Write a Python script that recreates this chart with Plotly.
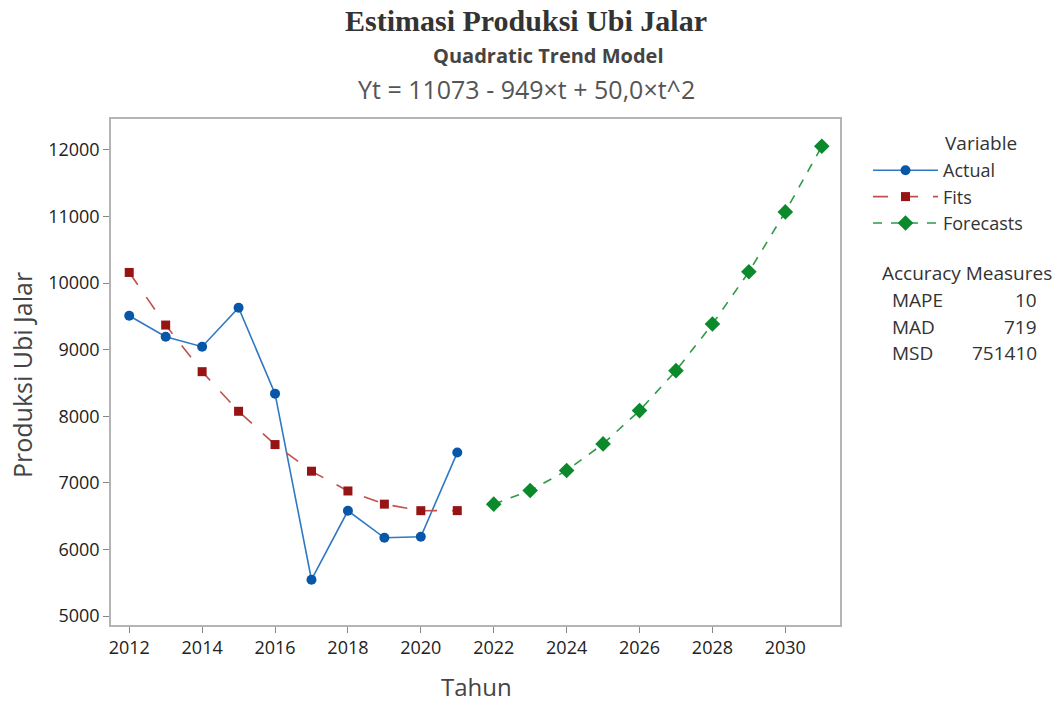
import plotly.graph_objects as go

years_actual = [2012, 2013, 2014, 2015, 2016, 2017, 2018, 2019, 2020, 2021]
actual = [9510, 9195, 9045, 9630, 8340, 5545, 6580, 6175, 6190, 7455]
fits = [10160, 9370, 8670, 8075, 7575, 7175, 6878, 6680, 6582, 6583]
years_fc = [2022, 2023, 2024, 2025, 2026, 2027, 2028, 2029, 2030, 2031]
forecasts = [6680, 6885, 7185, 7585, 8085, 8685, 9385, 10170, 11070, 12055]

acc_names = ["MAPE", "MAD", "MSD"]
acc_vals = ["10", "719", "751410"]

W, H = 1057, 702
ML, MR, MT, MB = 111, 217, 119, 77
plot_w = W - ML - MR
plot_h = H - MT - MB


def px_to_paper(px, py):
    return (px - ML) / plot_w, (H - MB - py) / plot_h


fig = go.Figure()
fig.add_trace(go.Scatter(x=years_actual, y=actual, name="Actual", mode="lines+markers",
                         line=dict(color="#2f78c4", width=1.6),
                         marker=dict(symbol="circle", size=10, color="#0756a8")))
fig.add_trace(go.Scatter(x=years_actual, y=fits, name="Fits", mode="lines+markers",
                         line=dict(color="#c0504d", width=1.6, dash="longdash"),
                         marker=dict(symbol="square", size=9, color="#961414")))
fig.add_trace(go.Scatter(x=years_fc, y=forecasts, name="Forecasts", mode="lines+markers",
                         line=dict(color="#2e9a48", width=1.6, dash="dash"),
                         marker=dict(symbol="diamond", size=12, color="#0b8a2c")))

axis_common = dict(showline=True, mirror=True, linecolor="#b4b4b4", linewidth=1.5,
                   ticks="outside", tickcolor="#888888", ticklen=6, showgrid=False,
                   zeroline=False, automargin=False,
                   tickfont=dict(family="Open Sans", size=18, color="#222222"))

fig.update_layout(
    width=W, height=H,
    paper_bgcolor="white", plot_bgcolor="white",
    margin=dict(l=ML, r=MR, t=MT, b=MB),
    xaxis=dict(range=[2011.5, 2031.5], tickvals=list(range(2012, 2031, 2)), **axis_common),
    yaxis=dict(range=[4865, 12465], tickvals=list(range(5000, 12001, 1000)), tickformat="d",
               **axis_common),
    legend=dict(x=(868 - ML) / plot_w, y=px_to_paper(0, 152)[1], xanchor="left", yanchor="top",
                font=dict(family="Open Sans", size=18, color="#333333"),
                itemwidth=65, tracegroupgap=0, bgcolor="rgba(0,0,0,0)"),
    showlegend=True,
)

texts = [
    dict(text="<b>Estimasi Produksi Ubi Jalar</b>", px=526, py=20, size=30, family="Liberation Serif", color="#333333", xa="center"),
    dict(text="<b>Quadratic Trend Model</b>", px=548, py=55, size=20, family="Open Sans", color="#444444", xa="center"),
    dict(text="Yt = 11073 - 949×t + 50,0×t^2", px=526, py=89, size=25, family="Open Sans", color="#555555", xa="center"),
    dict(text="Tahun", px=476, py=686, size=24, family="Open Sans", color="#444444", xa="center"),
    dict(text="Variable", px=943, py=143, size=19, family="Open Sans", color="#333333", xa="left"),
    dict(text="Accuracy Measures", px=880, py=273, size=19, family="Open Sans", color="#333333", xa="left"),
]
for t in texts:
    x, y = px_to_paper(t["px"], t["py"])
    fig.add_annotation(text=t["text"], x=x, y=y, xref="paper", yref="paper", showarrow=False,
                       xanchor=t["xa"], yanchor="middle",
                       font=dict(family=t["family"], size=t["size"], color=t["color"]))

x, y = px_to_paper(22, 375)
fig.add_annotation(text="Produksi Ubi Jalar", x=x, y=y, xref="paper", yref="paper", showarrow=False,
                   textangle=-90, xanchor="center", yanchor="middle",
                   font=dict(family="Open Sans", size=25, color="#444444"))

for i, (n, v) in enumerate(zip(acc_names, acc_vals)):
    xa, ya = px_to_paper(890, 300 + i * 26.5)
    fig.add_annotation(text=n, x=xa, y=ya, xref="paper", yref="paper", showarrow=False,
                       xanchor="left", yanchor="middle", font=dict(family="Open Sans", size=19, color="#333333"))
    xb, yb = px_to_paper(1039, 300 + i * 26.5)
    fig.add_annotation(text=v, x=xb, y=yb, xref="paper", yref="paper", showarrow=False,
                       xanchor="right", yanchor="middle", font=dict(family="Open Sans", size=19, color="#333333"))

fig.write_html("out.html", config={"displayModeBar": False})
with open("out.html", "r", encoding="utf-8") as f:
    html = f.read()
html = html.replace("<body>", '<body style="margin:0;padding:0;">', 1)
with open("out.html", "w", encoding="utf-8") as f:
    f.write(html)
